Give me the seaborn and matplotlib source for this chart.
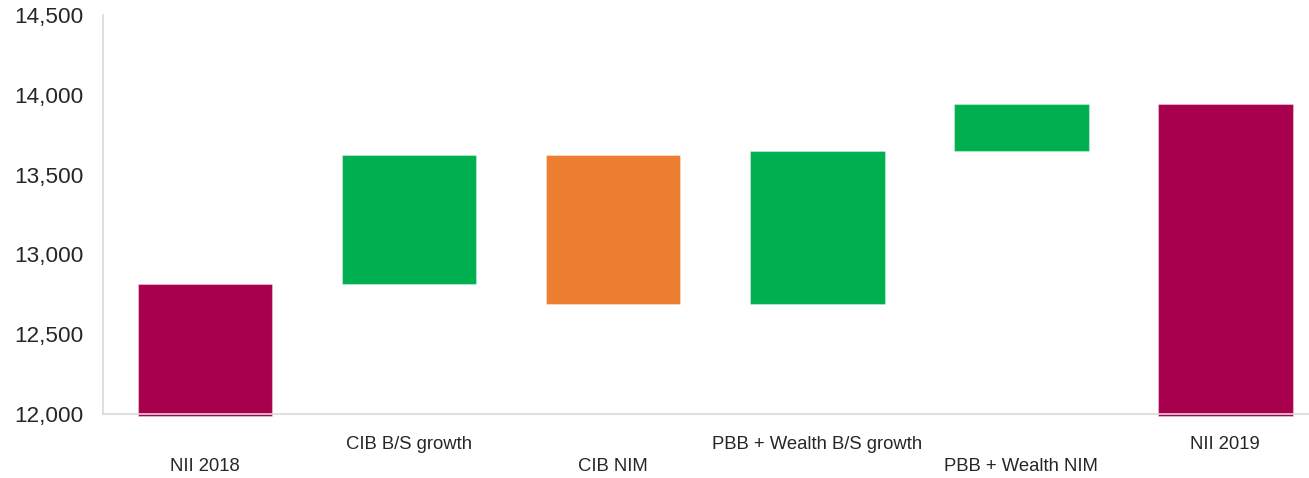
import matplotlib
matplotlib.use("Agg")
import matplotlib.pyplot as plt
import seaborn as sns
import numpy as np

# Net interest income bridge, 2018 -> 2019
categories = ["NII 2018", "CIB B/S growth", "CIB NIM",
              "PBB + Wealth B/S growth", "PBB + Wealth NIM", "NII 2019"]
nii_2018 = 12815
changes = [808, -936, 963, 294]
kinds = ["total", "up", "down", "up", "up", "total"]

y_ticks = [12000, 12500, 13000, 13500, 14000, 14500]

colors = {"total": "#A8004D", "up": "#00B050", "down": "#ED7D31"}

# Build floating bar extents
axis_floor = y_ticks[0]
running = [nii_2018]
for c in changes:
    running.append(running[-1] + c)
nii_2019 = running[-1]

bottoms, tops = [], []
bottoms.append(axis_floor)
tops.append(nii_2018)
for i, c in enumerate(changes):
    start = running[i]
    end = running[i + 1]
    bottoms.append(min(start, end))
    tops.append(max(start, end))
bottoms.append(axis_floor)
tops.append(nii_2019)
bottoms = np.array(bottoms, dtype=float)
tops = np.array(tops, dtype=float)

# Totals sink a hair below the axis line
overhang = 15
bottoms_draw = bottoms.copy()
for i, k in enumerate(kinds):
    if k == "total":
        bottoms_draw[i] = axis_floor - overhang
heights = tops - bottoms_draw

sns.set_theme(style="white")
plt.rcParams["font.family"] = ["Liberation Sans", "DejaVu Sans"]

fig = plt.figure(figsize=(13.09, 4.78), dpi=100)
W, H = 1309, 478
ax = fig.add_axes([103 / W, (H - 414) / H, (W - 103) / W, (414 - 15) / H])

sns.barplot(x=categories, y=heights, bottom=bottoms_draw, order=categories,
            width=0.66, color=colors["up"], ax=ax, saturation=1)
for patch, k in zip(ax.patches, kinds):
    patch.set_facecolor(colors[k])
    patch.set_edgecolor((1, 1, 1, 0.35))
    patch.set_linewidth(0.8)
    patch.set_clip_on(False)
    patch.set_zorder(2)

ax.set_xlim(-0.5, 5.41)
ax.set_ylim(y_ticks[0], y_ticks[-1])
ax.set_yticks(y_ticks)
ax.set_yticklabels([f"{v:,}" for v in y_ticks], fontsize=16.2, color="#262626")
ax.set_xticks(range(len(categories)))
ax.set_xticklabels(categories, fontsize=13.3, color="#262626")
ax.set_xlabel("")
ax.set_ylabel("")

ax.tick_params(axis="y", length=0, pad=14)
ax.tick_params(axis="x", length=0)
for i, t in enumerate(ax.xaxis.get_major_ticks()):
    t.set_pad(32 if i % 2 == 0 else 16)

for side in ["top", "right"]:
    ax.spines[side].set_visible(False)
for side in ["left", "bottom"]:
    ax.spines[side].set_color("#D9D9D9")
    ax.spines[side].set_linewidth(1.2)
    ax.spines[side].set_zorder(3)
ax.grid(False)

fig.savefig("out.png", dpi=100)
